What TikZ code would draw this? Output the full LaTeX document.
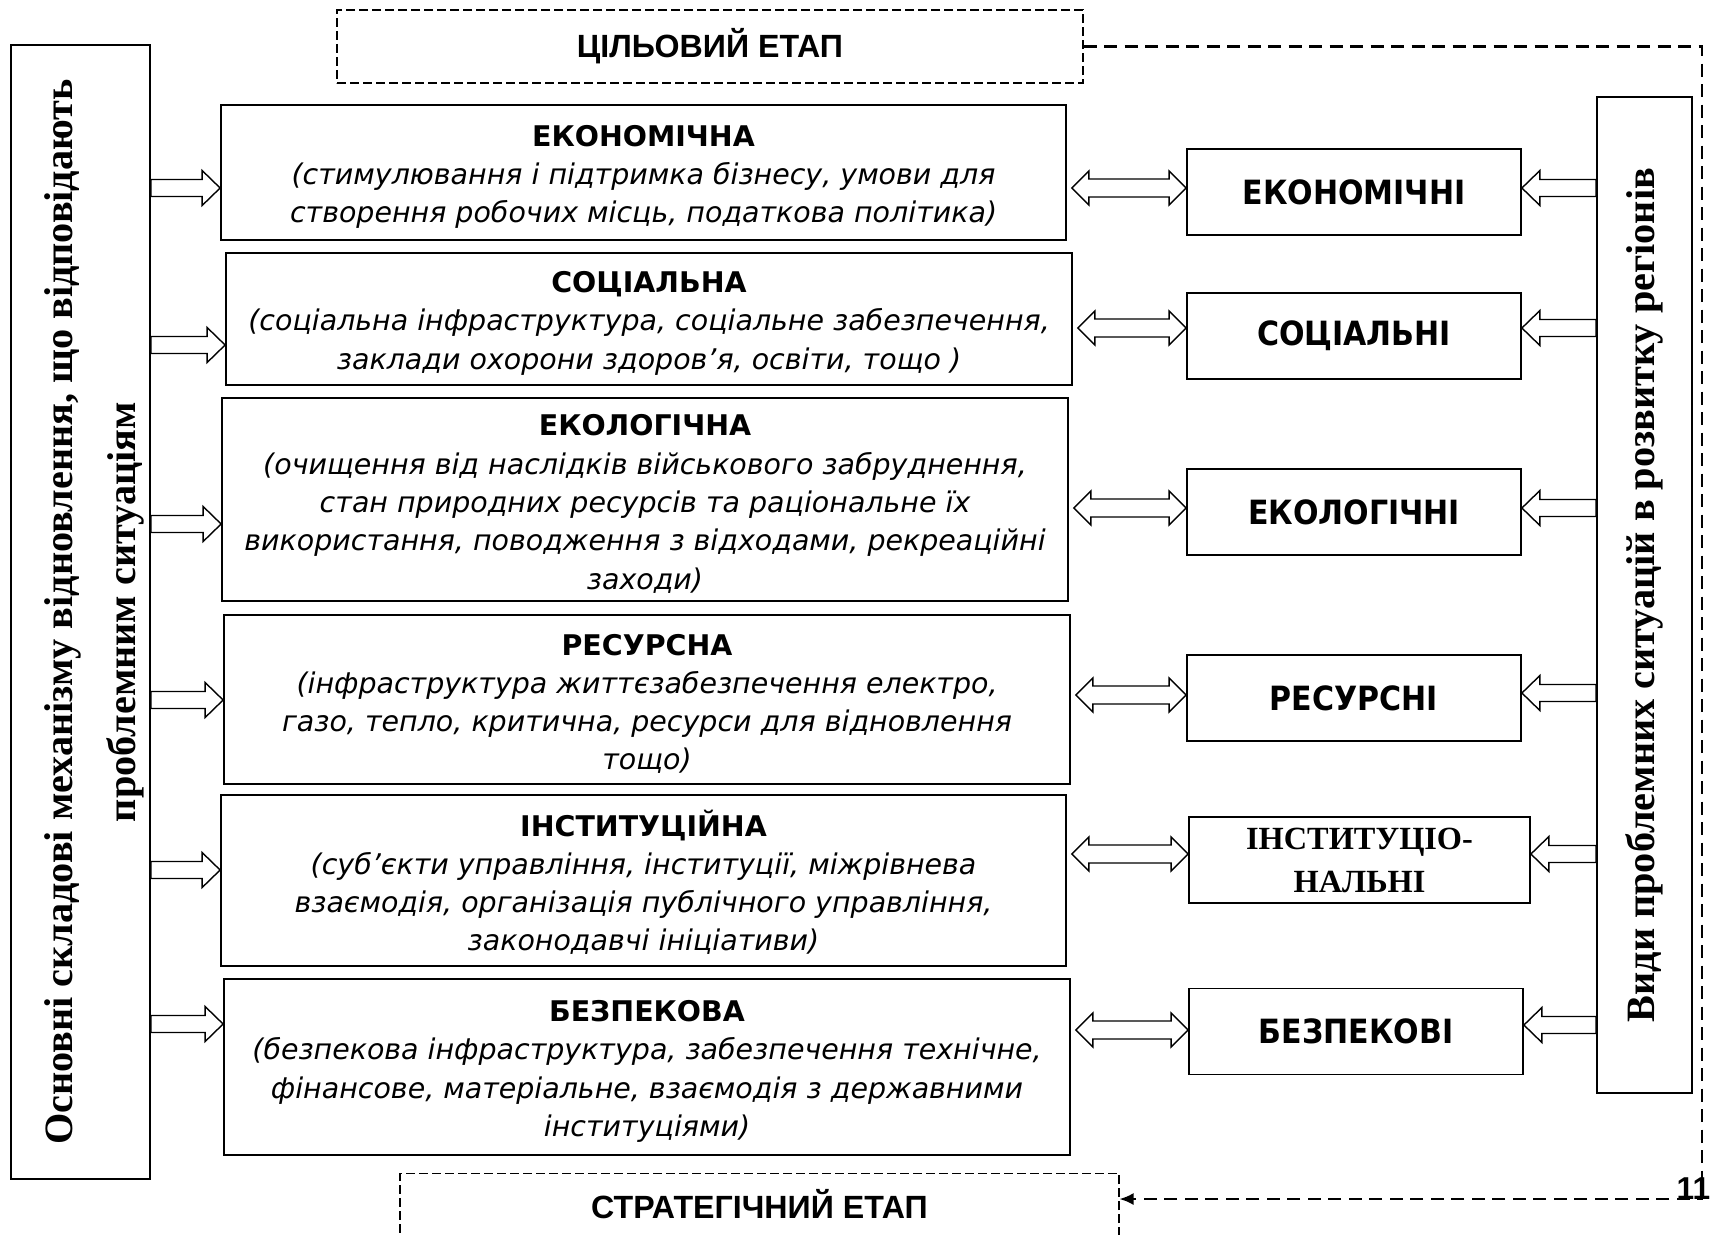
\documentclass[tikz,border=0pt]{standalone}
\usepackage{fontspec}
\setmainfont{Liberation Serif}
\setsansfont{DejaVu Sans}
\newfontfamily\stagefont{Liberation Sans}
\newfontfamily\kindfont{DejaVu Sans Condensed}
\usetikzlibrary{calc,arrows.meta}

\tikzset{
  stage/.style={draw, dash pattern=on 0.9mm off 0.4mm, line width=0.3pt, inner sep=0,
    font=\stagefont\bfseries\fontsize{9.15}{11}\selectfont},
  part/.style={draw, line width=0.5pt, inner sep=0, align=center,
    font=\sffamily\itshape\fontsize{8.1}{10.9}\selectfont},
  kind/.style={draw, line width=0.5pt, inner sep=0, minimum width=33.4mm, minimum height=8.6mm,
    align=center, font=\kindfont\bfseries\fontsize{9.5}{11}\selectfont},
  side/.style={draw, line width=0.5pt, inner sep=0, rotate=90},
  sidetext/.style={inner sep=0, rotate=90, align=center,
    font=\bfseries\fontsize{11.45}{17.9}\selectfont},
  fat/.style={draw, line width=0.4pt, fill=white},
  link/.style={line width=0.6pt, dash pattern=on 1.3mm off 0.75mm}
}

% title line of a component box
\newcommand{\ttl}[1]{{\bfseries\upshape\rule{0pt}{8.5pt}#1}}
% hollow block arrow: tail node, tip node, y, direction (1 right, -1 left)
\newcommand{\fatarrow}[4]{%
  \coordinate (t) at (#1 |- 0,#3);
  \coordinate (h) at (#2 |- 0,#3);
  \draw[fat] ($(t)+(0,-8.5)$) -- ($(h)+(-18*#4,-8.5)$) -- ($(h)+(-18*#4,-17.5)$) -- (h)
    -- ($(h)+(-18*#4,17.5)$) -- ($(h)+(-18*#4,8.5)$) -- ($(t)+(0,8.5)$) -- cycle;}
% hollow double block arrow: left node, right node, y
\newcommand{\fatboth}[3]{%
  \coordinate (l) at ($(#1 |- 0,#3)+(5,0)$);
  \coordinate (r) at (#2 |- 0,#3);
  \draw[fat] (l) -- ($(l)+(17,-17)$) -- ($(l)+(17,-9)$) -- ($(r)+(-17,-9)$) -- ($(r)+(-17,-17)$)
    -- (r) -- ($(r)+(-17,17)$) -- ($(r)+(-17,9)$) -- ($(l)+(17,9)$) -- ($(l)+(17,17)$) -- cycle;}

\begin{document}
\begin{tikzpicture}[x=0.1mm, y=-0.1mm]
  \useasboundingbox (0,0) rectangle (1714,1234);

  % stages
  \node[stage, minimum width=74.6mm, minimum height=7.3mm] (goal) at (710,46.5) {ЦІЛЬОВИЙ ЕТАП};
  \node[stage, anchor=north, minimum width=71.9mm, text height=4.45mm, text depth=4mm] (strat) at (759.5,1173) {СТРАТЕГІЧНИЙ ЕТАП};

  % side boxes (rotated: south is the right side, north the left side)
  \node[side, minimum width=113.4mm, minimum height=13.9mm] (comp) at (80.5,612) {};
  \node[sidetext] (compT) at ($(comp.center)+(14,0)$)
    {Основні складові механізму відновлення, що відповідають\\ проблемним ситуаціям};
  \node[side, minimum width=99.6mm, minimum height=9.5mm] (kinds) at (1644.5,595) {};
  \node[sidetext] (kindsT) at (kinds.center) {Види проблемних ситуацій в розвитку регіонів};

  % components
  \node[part, minimum width=84.5mm, minimum height=13.5mm] (econ) at (643.5,172.5)
    {\ttl{ЕКОНОМІЧНА}\\(стимулювання і підтримка бізнесу, умови для\\створення робочих місць, податкова політика)};
  \node[part, minimum width=84.6mm, minimum height=13.2mm] (soc) at (649,319)
    {\ttl{СОЦІАЛЬНА}\\(соціальна інфраструктура, соціальне забезпечення,\\заклади охорони здоров’я, освіти, тощо )};
  \node[part, minimum width=84.6mm, minimum height=20.3mm] (ecol) at (645,499.5)
    {\ttl{ЕКОЛОГІЧНА}\\(очищення від наслідків військового забруднення,\\стан природних ресурсів та раціональне їх\\використання, поводження з відходами, рекреаційні\\заходи)};
  \node[part, minimum width=84.6mm, minimum height=16.9mm] (res) at (647,699.5)
    {\ttl{РЕСУРСНА}\\(інфраструктура життєзабезпечення електро,\\газо, тепло, критична, ресурси для відновлення\\тощо)};
  \node[part, minimum width=84.5mm, minimum height=17.1mm] (inst) at (643.5,880.5)
    {\ttl{ІНСТИТУЦІЙНА}\\(суб’єкти управління, інституції, міжрівнева\\взаємодія, організація публічного управління,\\законодавчі ініціативи)};
  \node[part, minimum width=84.6mm, minimum height=17.6mm] (sec) at (647,1067)
    {\ttl{БЕЗПЕКОВА}\\(безпекова інфраструктура, забезпечення технічне,\\фінансове, матеріальне, взаємодія з державними\\інституціями)};

  % kinds of problems
  \node[kind] (econK) at (1354,192) {ЕКОНОМІЧНІ};
  \node[kind] (socK) at (1354,336) {СОЦІАЛЬНІ};
  \node[kind] (ecolK) at (1354,512) {ЕКОЛОГІЧНІ};
  \node[kind] (resK) at (1354,698) {РЕСУРСНІ};
  \node[kind, minimum width=34.1mm, font=\rmfamily\bfseries\fontsize{9.2}{12.2}\selectfont] (instK) at (1359.5,860) {ІНСТИТУЦІО-\\НАЛЬНІ};
  \node[kind] (secK) at (1356,1031.5) {БЕЗПЕКОВІ};

  % block arrows
  \foreach \mech/\kd/\ya/\yb/\yc in {econ/econK/188/188/188, soc/socK/345/328/328,
      ecol/ecolK/524/508/508, res/resK/700/695/693, inst/instK/870/854/854, sec/secK/1024/1030/1025} {
    \fatarrow{comp.south}{\mech.west}{\ya}{1}
    \fatboth{\mech.east}{\kd.west}{\yb}
    \fatarrow{kinds.north}{\kd.east}{\yc}{-1}
  }

  % feedback
  \coordinate (turn) at (1702,1199);
  \draw[link, -{Latex[length=1.4mm, width=1.2mm]}] (goal.east) -| (turn) -- (turn -| strat.east);
  \node[anchor=west, inner sep=0, font=\stagefont\bfseries\fontsize{9}{11}\selectfont] (pg) at (1676,1189) {11};
\end{tikzpicture}
\end{document}
